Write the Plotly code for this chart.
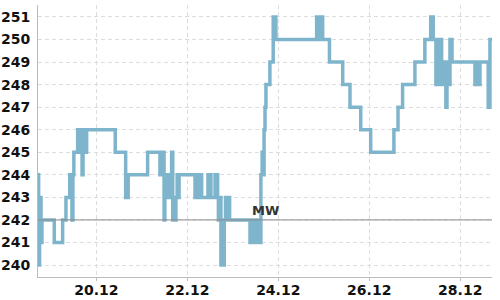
import plotly.graph_objects as go

times = [
    "2023-12-18 17:15", "2023-12-18 17:35", "2023-12-18 18:05", "2023-12-18 18:50", "2023-12-18 19:20",
    "2023-12-19 01:50", "2023-12-19 06:15", "2023-12-19 08:00", "2023-12-19 10:00", "2023-12-19 10:30",
    "2023-12-19 11:10", "2023-12-19 11:40", "2023-12-19 12:10", "2023-12-19 14:10", "2023-12-19 15:55",
    "2023-12-19 16:30", "2023-12-19 17:00", "2023-12-19 17:30", "2023-12-19 18:55", "2023-12-20 10:00",
    "2023-12-20 15:30", "2023-12-20 16:05", "2023-12-20 16:25", "2023-12-20 16:50", "2023-12-21 03:05",
    "2023-12-21 09:35", "2023-12-21 11:20", "2023-12-21 11:45", "2023-12-21 12:10", "2023-12-21 12:40",
    "2023-12-21 13:10", "2023-12-21 13:40", "2023-12-21 14:10", "2023-12-21 14:40", "2023-12-21 15:10",
    "2023-12-21 15:45", "2023-12-21 16:20", "2023-12-21 16:50", "2023-12-21 17:30", "2023-12-21 18:00",
    "2023-12-21 18:40", "2023-12-21 19:10", "2023-12-21 19:40", "2023-12-22 04:05", "2023-12-22 04:40",
    "2023-12-22 05:20", "2023-12-22 06:00", "2023-12-22 06:40", "2023-12-22 07:10", "2023-12-22 07:35",
    "2023-12-22 10:55", "2023-12-22 12:30", "2023-12-22 14:40", "2023-12-22 16:00", "2023-12-22 16:25",
    "2023-12-22 17:00", "2023-12-22 17:45", "2023-12-22 19:30", "2023-12-22 20:10", "2023-12-22 20:50",
    "2023-12-22 21:30", "2023-12-22 22:20", "2023-12-22 23:00", "2023-12-23 09:05", "2023-12-23 09:40",
    "2023-12-23 10:20", "2023-12-23 11:00", "2023-12-23 11:40", "2023-12-23 12:20", "2023-12-23 13:00",
    "2023-12-23 13:40", "2023-12-23 14:10", "2023-12-23 14:50", "2023-12-23 15:30", "2023-12-23 16:00",
    "2023-12-23 16:30", "2023-12-23 17:00", "2023-12-23 17:30", "2023-12-23 19:35", "2023-12-23 21:20",
    "2023-12-23 22:45", "2023-12-24 20:15", "2023-12-24 20:50", "2023-12-24 21:20", "2023-12-24 21:50",
    "2023-12-24 22:20", "2023-12-24 23:25", "2023-12-25 03:00", "2023-12-25 10:00", "2023-12-25 13:50",
    "2023-12-25 19:30", "2023-12-26 00:45", "2023-12-26 13:00", "2023-12-26 15:10", "2023-12-26 17:35",
    "2023-12-27 00:05", "2023-12-27 05:20", "2023-12-27 08:25", "2023-12-27 09:45", "2023-12-27 11:10",
    "2023-12-27 11:40", "2023-12-27 12:10", "2023-12-27 12:40", "2023-12-27 13:10", "2023-12-27 13:40",
    "2023-12-27 14:10", "2023-12-27 14:50", "2023-12-27 15:40", "2023-12-27 16:25", "2023-12-27 17:00",
    "2023-12-27 17:30", "2023-12-27 18:00", "2023-12-27 18:35", "2023-12-27 19:40", "2023-12-28 07:45",
    "2023-12-28 08:20", "2023-12-28 08:50", "2023-12-28 09:20", "2023-12-28 09:50", "2023-12-28 10:25",
    "2023-12-28 14:45", "2023-12-28 15:40", "2023-12-28 16:45",
]
values = [
    244, 240, 243, 241, 242,
    241, 242, 243, 244, 243,
    242, 244, 245, 246, 245,
    244, 246, 245, 246, 245,
    243, 244, 243, 244, 245,
    244, 245, 242, 243, 244,
    243, 244, 243, 244, 243,
    245, 242, 243, 242, 243,
    244, 243, 244, 243, 244,
    243, 244, 243, 244, 243,
    244, 243, 244, 243, 242,
    243, 240, 242, 243, 242,
    243, 242, 242, 241, 242,
    241, 242, 241, 242, 241,
    242, 241, 244, 245, 244,
    246, 247, 248, 249, 251,
    250, 251, 250, 251, 250,
    251, 250, 249, 248, 247,
    246, 245, 246, 247, 248,
    249, 250, 251, 250, 248,
    250, 248, 249, 248, 250,
    248, 249, 248, 247, 248,
    249, 248, 250, 249, 248,
    249, 248, 249, 248, 249,
    247, 250, 250,
]

mw_value = 242
mw_label = "MW"
x_range = ["2023-12-18 17:15", "2023-12-28 16:45"]
y_range = [239.47, 251.53]

font_family = "DejaVu Sans"
line_color = "#7fb5cc"

fig = go.Figure()
fig.add_trace(go.Scatter(
    x=times, y=values, mode="lines",
    line=dict(color=line_color, width=3.5, shape="hv"),
    hoverinfo="skip", showlegend=False,
))

fig.add_shape(type="line", xref="paper", x0=0, x1=1, yref="y", y0=mw_value, y1=mw_value,
              line=dict(color="#8a8a8a", width=1))
fig.add_annotation(text=mw_label, xref="paper", x=0.5, yref="y", y=mw_value,
                   yanchor="bottom", xanchor="center", showarrow=False, yshift=0,
                   font=dict(family=font_family, size=13, color="#333333", weight="bold"))

fig.update_layout(
    width=500, height=300,
    margin=dict(l=38, r=8, t=5, b=23),
    paper_bgcolor="white", plot_bgcolor="white",
    showlegend=False,
    font=dict(family=font_family, size=14, color="#111111"),
)
fig.update_xaxes(
    type="date", range=x_range, tickformat="%d.%m",
    dtick=2 * 24 * 3600 * 1000, tick0="2023-12-20",
    showgrid=True, gridcolor="#dddddd", griddash="4px,3px", gridwidth=1,
    showline=True, linecolor="#bbbbbb", linewidth=1,
    ticks="outside", ticklen=3, tickcolor="#bbbbbb",
    ticklabelstandoff=-3,
    tickfont=dict(family=font_family, size=14, color="#111111", weight="bold"),
    zeroline=False, automargin=False,
)
fig.update_yaxes(
    range=y_range, dtick=1, tick0=240,
    showgrid=True, gridcolor="#dddddd", griddash="4px,3px", gridwidth=1,
    showline=True, linecolor="#bbbbbb", linewidth=1,
    ticks="", ticklabelstandoff=4,
    tickfont=dict(family=font_family, size=14, color="#111111", weight="bold"),
    zeroline=False, automargin=False,
)

fig.write_html("out.html")
